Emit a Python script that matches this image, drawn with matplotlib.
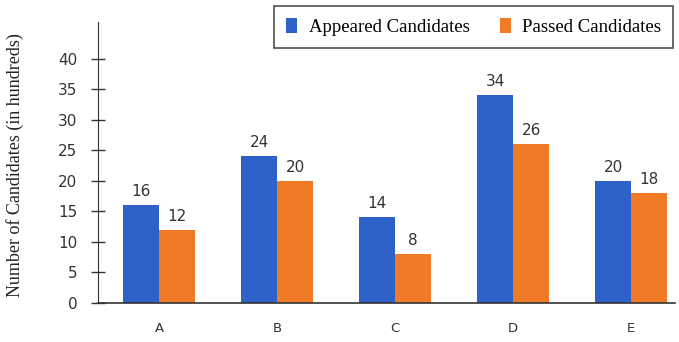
import matplotlib.pyplot as plt
import numpy as np

categories = ['A', 'B', 'C', 'D', 'E']
appeared = [16, 24, 14, 34, 20]
passed = [12, 20, 8, 26, 18]

blue = '#2f62c8'
orange = '#f07a26'

fig = plt.figure(figsize=(6.79, 3.42), dpi=100)
ax = fig.add_axes([0.1443, 0.114, 0.8497, 0.822])

x = np.arange(len(categories))
w = 0.305
b1 = ax.bar(x - w / 2, appeared, w, color=blue, label='Appeared Candidates')
b2 = ax.bar(x + w / 2, passed, w, color=orange, label='Passed Candidates')

for bars, vals in ((b1, appeared), (b2, passed)):
    for rect, v in zip(bars, vals):
        ax.text(rect.get_x() + rect.get_width() / 2, v + 1.0, str(v),
                ha='center', va='bottom', fontsize=11, color='#333333',
                family='DejaVu Sans')

ax.set_xlim(-0.52, 4.37)
ax.set_ylim(0, 46)
ax.set_yticks(range(0, 41, 5))
ax.set_xticks(x)
ax.set_xticklabels(categories, fontsize=9.5, color='#333333')
ax.tick_params(axis='y', direction='inout', length=10, width=1, labelsize=11,
               colors='#333333', pad=10)
ax.tick_params(axis='x', length=0, pad=14)

for side in ('top', 'right'):
    ax.spines[side].set_visible(False)
ax.spines['left'].set_color('#333333')
ax.spines['bottom'].set_color('#333333')
ax.spines['bottom'].set_linewidth(1.2)

ax.set_ylabel('Number of Candidates (in hundreds)', family='Liberation Serif',
              fontsize=13, color='#222222')
ax.yaxis.set_label_coords(-0.128, 0.49)

leg = fig.legend(loc='upper right', bbox_to_anchor=(0.997, 0.993), ncol=2,
                 prop={'family': 'Liberation Serif', 'size': 13.5},
                 frameon=True, fancybox=False, edgecolor='#222222',
                 handlelength=0.6, handleheight=0.8, columnspacing=1.6,
                 borderpad=0.65, handletextpad=0.6, borderaxespad=0.2)
leg.get_frame().set_linewidth(1.2)

fig.savefig('out.png', dpi=100)
